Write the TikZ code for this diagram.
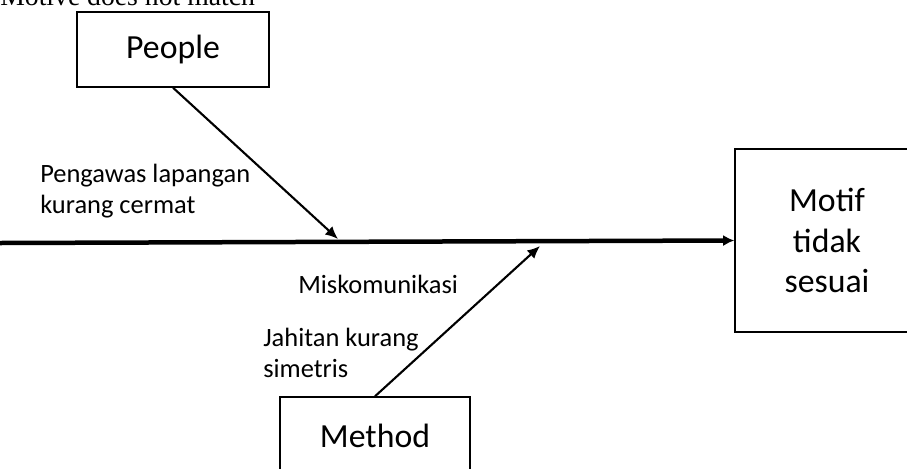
\documentclass[tikz,border=0pt]{standalone}
\usepackage{fontspec}
\setmainfont{Carlito}
\newfontfamily\titlefont{Liberation Serif}
\usetikzlibrary{arrows.meta}

\def\px{0.025cm}

\begin{document}
\begin{tikzpicture}[x=\px, y=-\px,
    box/.style = {draw, line width=1pt, inner sep=0pt, font=\fontsize{24}{29}\selectfont},
    bone/.style = {line width=1.5pt, -{Latex[length=9pt,width=8pt]}},
    spine/.style = {line width=3.2pt, -{Latex[length=8pt,width=8pt]}},
    cause/.style = {font=\fontsize{18.8}{22}\selectfont, align=left, anchor=base west, inner sep=0pt}
                    ]
        \useasboundingbox (0,0) rectangle (907,468);
        \clip (0,0) rectangle (907,468);
        % title, cut at the top
        \node[font=\titlefont\fontsize{19.7}{22}\selectfont, anchor=base west, inner sep=0pt] (title) at (0,5) {Motive does not match};
        % boxes
        \node[box, minimum width=192*\px, minimum height=75*\px] (people) at (173,49.5) {People};
        \node[box, minimum width=190*\px, minimum height=78*\px] (method) at (375,436) {Method};
        \node[box, minimum width=184*\px, minimum height=183*\px, align=center] (effect) at (827,240.5) {Motif\\tidak\\sesuai};
        % spine and bones
        \coordinate (tail) at (0,243);
        \coordinate (j1) at (338,239);
        \coordinate (j2) at (540,246);
        \draw [spine] (tail) -- (effect.west);
        \draw [bone] (people.south) -- (j1);
        \draw [bone] (method.north) -- (j2);
        % causes (anchored on the last line)
        \node[cause] (c1) at (40,213) {Pengawas lapangan\\kurang cermat};
        \node[cause] (c2) at (298,293) {Miskomunikasi};
        \node[cause] (c3) at (263,377) {Jahitan kurang\\simetris};
    \end{tikzpicture}
\end{document}
